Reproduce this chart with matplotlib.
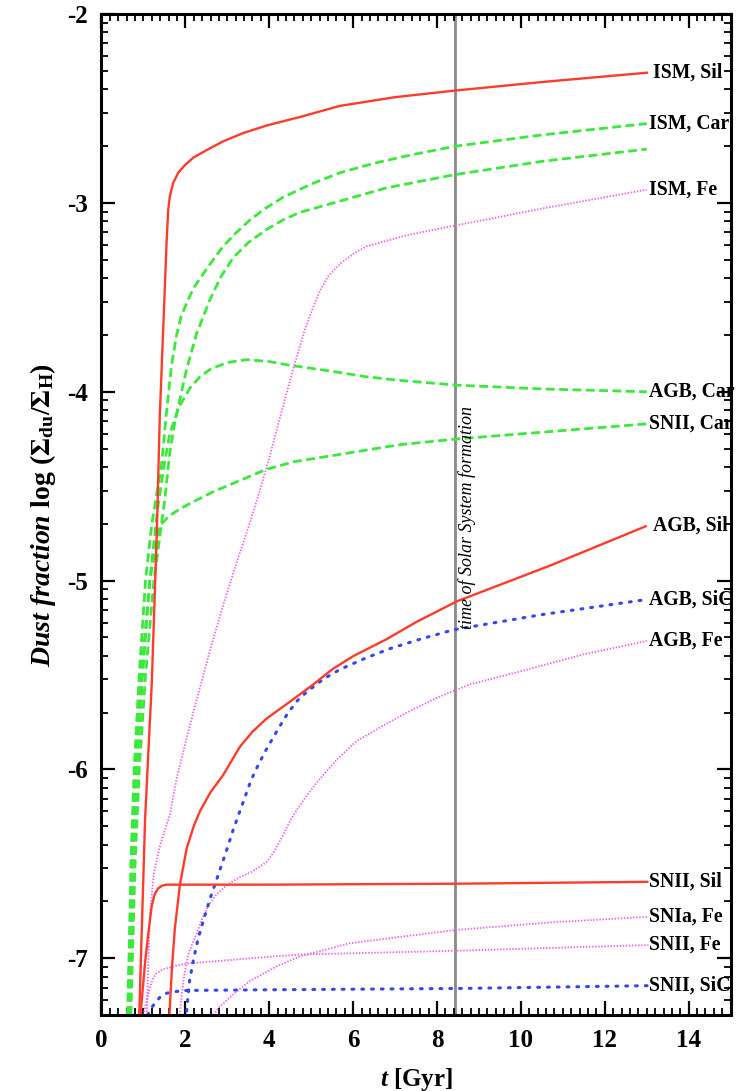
import numpy as np
import matplotlib
matplotlib.use("Agg")
import matplotlib.pyplot as plt
from matplotlib.ticker import FixedLocator, MultipleLocator

# ---- dust fraction tracks: time [Gyr] and log(Sigma_du / Sigma_H) ----
ism_sil_t = [0.90, 1.04, 1.20, 1.32, 1.39, 1.50, 1.55, 1.59, 1.63, 1.71, 1.83, 1.99, 2.19, 2.51, 2.90,
             3.38, 3.94, 4.73, 5.69, 7.00, 8.43, 10.5, 13.03]
ism_sil_y = [-7.30, -6.26, -5.54, -4.74, -4.13, -3.51, -3.22, -3.04, -2.965, -2.894, -2.84, -2.80, -2.76,
             -2.72, -2.674, -2.63, -2.59, -2.545, -2.486, -2.44, -2.405, -2.36, -2.31]

ism_car1_t = [0.64, 0.70, 0.78, 0.90, 1.05, 1.20, 1.43, 1.54, 1.67, 1.79, 1.90, 2.07, 2.20, 2.35, 2.60,
              2.90, 3.20, 3.54, 3.90, 4.33, 5.00, 5.69, 6.50, 7.40, 8.43, 10.5, 13.0]
ism_car1_y = [-7.30, -6.50, -6.00, -5.50, -5.00, -4.70, -4.39, -4.13, -3.86, -3.70, -3.60, -3.51, -3.45,
              -3.40, -3.32, -3.23, -3.16, -3.09, -3.03, -2.97, -2.90, -2.84, -2.79, -2.745, -2.70, -2.64, -2.58]

ism_car2_t = [0.70, 0.80, 0.90, 1.05, 1.25, 1.51, 1.63, 1.75, 1.87, 2.03, 2.27, 2.59, 2.85, 3.14, 3.50,
              3.94, 4.33, 4.73, 5.69, 6.80, 8.43, 10.5, 13.0]
ism_car2_y = [-7.30, -6.50, -6.00, -5.50, -5.00, -4.57, -4.32, -4.16, -4.04, -3.88, -3.69, -3.51, -3.39,
              -3.29, -3.21, -3.14, -3.09, -3.05, -2.99, -2.92, -2.85, -2.78, -2.715]

agb_car_t = [0.67, 0.76, 0.85, 0.98, 1.15, 1.35, 1.50, 1.63, 1.85, 2.11, 2.35, 2.60, 3.00, 3.46, 4.00,
             4.50, 5.45, 6.30, 7.12, 8.47, 10.5, 13.0]
agb_car_y = [-7.30, -6.50, -6.00, -5.50, -5.00, -4.60, -4.38, -4.22, -4.08, -3.98, -3.92, -3.88, -3.845,
             -3.83, -3.84, -3.86, -3.89, -3.92, -3.94, -3.965, -3.985, -4.00]

snii_car_t = [0.62, 0.72, 0.82, 0.95, 1.15, 1.39, 1.60, 1.87, 2.30, 2.66, 3.30, 3.94, 4.60, 5.45, 7.12, 8.47, 13.0]
snii_car_y = [-7.30, -6.50, -6.00, -5.50, -5.00, -4.71, -4.66, -4.62, -4.57, -4.53, -4.47, -4.41, -4.37,
              -4.34, -4.28, -4.25, -4.17]

ism_fe_t = [1.08, 1.12, 1.16, 1.25, 1.40, 1.63, 1.79, 2.00, 2.27, 2.60, 2.90, 3.20, 3.50, 3.78, 4.00,
            4.30, 4.57, 4.85, 5.05, 5.20, 5.40, 5.70, 6.00, 6.32, 7.30, 8.43, 10.5, 13.0]
ism_fe_y = [-7.30, -7.00, -6.75, -6.55, -6.40, -6.24, -6.05, -5.86, -5.63, -5.36, -5.13, -4.92, -4.72,
            -4.52, -4.35, -4.10, -3.88, -3.67, -3.55, -3.47, -3.39, -3.32, -3.27, -3.23, -3.17, -3.12, -3.03, -2.93]

agb_sil_t = [1.62, 1.68, 1.75, 1.87, 2.03, 2.20, 2.35, 2.60, 2.90, 3.30, 3.60, 3.94, 4.50, 5.05, 5.50,
             6.00, 6.80, 7.50, 8.47, 10.7, 13.0]
agb_sil_y = [-7.30, -7.05, -6.84, -6.61, -6.42, -6.30, -6.22, -6.12, -6.03, -5.88, -5.80, -5.73, -5.64,
             -5.55, -5.47, -5.40, -5.31, -5.22, -5.11, -4.92, -4.71]

agb_sic_t = [2.03, 2.10, 2.19, 2.30, 2.43, 2.58, 2.75, 2.95, 3.14, 3.35, 3.56, 3.75, 3.94, 4.20, 4.42,
             4.65, 4.89, 5.30, 5.69, 6.30, 6.88, 7.60, 8.40, 10.5, 13.0]
agb_sic_y = [-7.28, -7.12, -7.01, -6.90, -6.80, -6.69, -6.58, -6.45, -6.32, -6.19, -6.06, -5.97, -5.89,
             -5.79, -5.71, -5.64, -5.59, -5.52, -5.47, -5.41, -5.36, -5.31, -5.26, -5.18, -5.10]

agb_fe_t = [1.87, 1.92, 1.98, 2.07, 2.17, 2.27, 2.40, 2.55, 2.75, 3.00, 3.30, 3.60, 3.94, 4.10, 4.30,
            4.50, 4.70, 4.89, 5.13, 5.60, 6.08, 6.70, 7.27, 8.00, 8.78, 10.0, 11.5, 13.0]
agb_fe_y = [-7.30, -7.18, -7.08, -6.98, -6.92, -6.87, -6.79, -6.72, -6.66, -6.61, -6.57, -6.54, -6.49,
            -6.44, -6.36, -6.27, -6.20, -6.14, -6.07, -5.95, -5.85, -5.77, -5.70, -5.62, -5.55, -5.48, -5.39, -5.32]

snii_sil_t = [0.93, 1.04, 1.10, 1.16, 1.20, 1.27, 1.35, 1.45, 1.55, 4.0, 8.44, 13.04]
snii_sil_y = [-7.30, -7.02, -6.90, -6.79, -6.72, -6.66, -6.63, -6.615, -6.61, -6.61, -6.605, -6.595]

snia_fe_t = [2.67, 2.80, 3.00, 3.20, 3.54, 4.20, 4.73, 5.92, 8.44, 10.69, 13.04]
snia_fe_y = [-7.30, -7.26, -7.22, -7.18, -7.12, -7.04, -6.99, -6.92, -6.85, -6.81, -6.78]

snii_fe_t = [1.00, 1.08, 1.15, 1.22, 1.31, 1.45, 1.60, 1.95, 3.54, 4.73, 8.44, 13.04]
snii_fe_y = [-7.30, -7.22, -7.16, -7.11, -7.08, -7.06, -7.05, -7.03, -7.00, -6.98, -6.96, -6.93]

snii_sic_t = [1.10, 1.20, 1.30, 1.42, 1.55, 1.80, 2.03, 5.0, 8.44, 13.04]
snii_sic_y = [-7.30, -7.26, -7.23, -7.20, -7.185, -7.175, -7.17, -7.165, -7.16, -7.145]

solar_system_t = 8.43

label_names = ["ISM, Sil", "ISM, Car", "ISM, Fe", "AGB, Car", "SNII, Car", "AGB, Sil",
               "AGB, SiC", "AGB, Fe", "SNII, Sil", "SNIa, Fe", "SNII, Fe", "SNII, SiC"]
label_y = [-2.31, -2.58, -2.93, -4.00, -4.17, -4.71, -5.10, -5.32, -6.595, -6.78, -6.93, -7.145]

# ---- styling ----
plt.rcParams["font.family"] = ["Liberation Serif", "DejaVu Serif"]
plt.rcParams["font.weight"] = "bold"
plt.rcParams["mathtext.fontset"] = "custom"
plt.rcParams["mathtext.rm"] = "Liberation Serif:bold"
plt.rcParams["mathtext.bf"] = "Liberation Serif:bold"
plt.rcParams["mathtext.it"] = "Liberation Serif:bold:italic"

RED = "#ff3b2b"
GREEN = "#3de83d"
BLUE = "#3346f0"
MAGENTA = "#f060f0"

fig = plt.figure(figsize=(7.38, 10.91), dpi=100)
ax = fig.add_axes([0.1375, 0.0697, 0.8525, 0.9174])

solid = dict(color=RED, lw=1.7, ls="-", solid_capstyle="butt", solid_joinstyle="round")
dashed = dict(color=GREEN, lw=2.0, ls=(0, (3.2, 1.6)))
blue_dot = dict(color=BLUE, lw=2.2, ls=(0, (0.6, 2.6)), dash_capstyle="round")
mag_dot = dict(color=MAGENTA, lw=1.3, ls=(0, (0.8, 0.9)))

ax.axvline(solar_system_t, color="#8a8a8a", lw=2.0, zorder=1)

ax.plot(ism_car1_t, ism_car1_y, **dashed)
ax.plot(ism_car2_t, ism_car2_y, **dashed)
ax.plot(agb_car_t, agb_car_y, **dashed)
ax.plot(snii_car_t, snii_car_y, **dashed)

ax.plot(ism_fe_t, ism_fe_y, **mag_dot)
ax.plot(agb_fe_t, agb_fe_y, **mag_dot)
ax.plot(snia_fe_t, snia_fe_y, **mag_dot)
ax.plot(snii_fe_t, snii_fe_y, **mag_dot)

ax.plot(agb_sic_t, agb_sic_y, **blue_dot)
ax.plot(snii_sic_t, snii_sic_y, **blue_dot)

ax.plot(ism_sil_t, ism_sil_y, **solid)
ax.plot(agb_sil_t, agb_sil_y, **solid)
ax.plot(snii_sil_t, snii_sil_y, **solid)

for name, yv in zip(label_names, label_y):
    xv = 13.15 if name in ("ISM, Sil", "AGB, Sil") else 13.06
    ax.text(xv, yv, name, ha="left", va="center", fontsize=14.2,
            fontweight="bold", color="black", clip_on=False, zorder=1.5)

ax.text(solar_system_t + 0.08, -5.255, "time of Solar System formation",
        rotation=90, ha="left", va="bottom", fontsize=13, style="italic",
        fontweight="normal", color="black")

ax.set_xlim(0, 15)
ax.set_ylim(-7.3, -2)

ax.xaxis.set_major_locator(MultipleLocator(2))
ax.xaxis.set_minor_locator(MultipleLocator(0.2))
minor_y = [n + np.log10(k) for n in range(-8, -1) for k in range(2, 10)]
ax.yaxis.set_minor_locator(FixedLocator(minor_y))
ax.set_yticks([-7, -6, -5, -4, -3, -2])
ax.set_yticklabels(["-7", "-6", "-5", "-4", "-3", "-2"])

ax.tick_params(which="both", direction="in", top=True, right=True, width=1.6,
               labelsize=18, pad=10)
ax.tick_params(which="major", length=10)
ax.tick_params(which="minor", length=5, width=1.3)
for lab in ax.get_xticklabels() + ax.get_yticklabels():
    lab.set_fontweight("bold")
for sp in ax.spines.values():
    sp.set_linewidth(2.2)

ax.set_xlabel(r"$t$ [Gyr]", fontsize=18, fontweight="bold", labelpad=10)
ax.set_ylabel(r"$\mathit{Dust\ fraction}\ \mathrm{log}\ (\Sigma_\mathrm{du}/\Sigma_\mathrm{H})$",
              fontsize=20, labelpad=6)

fig.savefig("out.png", dpi=100)
